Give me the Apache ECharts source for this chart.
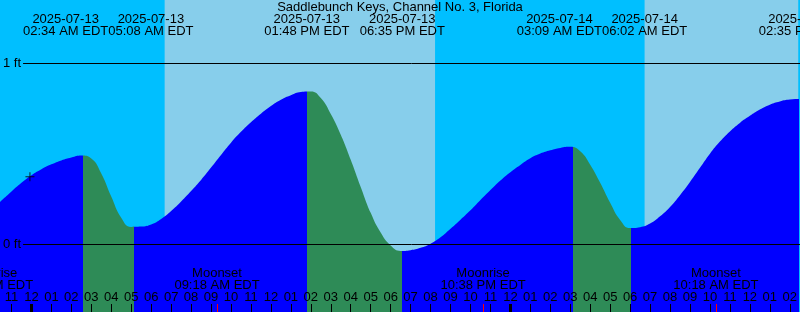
<!DOCTYPE html>
<html><head><meta charset="utf-8">
<script src="https://cdn.jsdelivr.net/npm/echarts@6/dist/echarts.min.js"></script>
<style>html,body{margin:0;padding:0;background:#00BFFF}#c{width:800px;height:312px}</style>
</head><body><div id="c"></div>
<script>
// ---- data (hours since 2025-07-13 00:00 EDT, heights in feet) ----
const titleText = 'Saddlebunch Keys, Channel No. 3, Florida';
const xMin = -1.575, xMax = 38.425;
const yMin = -0.3757, yMax = 1.3481;
const levelTicks = [0, 1];
const hourTicks = [-1,0,1,2,3,4,5,6,7,8,9,10,11,12,13,14,15,16,17,18,19,20,21,22,23,24,25,26,27,28,29,30,31,32,33,34,35,36,37,38];
const midnightTicks = [0, 24];

// tide height read every half hour, starting at tideStart
const tideStart = -2.0, tideStep = 0.5;
const tideHeights = [
  0.190, 0.240, 0.290, 0.338, 0.380, 0.413, 0.440, 0.462, 0.478, 0.489,
  0.473, 0.390, 0.262, 0.145, 0.094, 0.096, 0.108, 0.138, 0.182, 0.235,
  0.293, 0.354, 0.422, 0.492, 0.560, 0.620, 0.673, 0.720, 0.762, 0.797,
  0.822, 0.840, 0.842, 0.806, 0.718, 0.603, 0.465, 0.315, 0.172, 0.063,
  -0.008, -0.038, -0.034, -0.021, 0.002, 0.037, 0.084, 0.134, 0.186, 0.243,
  0.298, 0.351, 0.397, 0.437, 0.474, 0.500, 0.518, 0.531, 0.537, 0.512,
  0.438, 0.338, 0.228, 0.133, 0.088, 0.093, 0.113, 0.153, 0.205, 0.270,
  0.343, 0.421, 0.499, 0.566, 0.622, 0.669, 0.708, 0.743, 0.770, 0.788,
  0.798, 0.801
];

const extremeTimes = [2.567, 5.133, 13.8, 18.583, 27.15, 30.033, 38.583];
const extremeHeights = [0.490, 0.092, 0.845, -0.039, 0.538, 0.087, 0.801];
const extremeDates = ['2025-07-13','2025-07-13','2025-07-13','2025-07-13','2025-07-14','2025-07-14','2025-07-14'];
const extremeClock = ['02:34 AM EDT','05:08 AM EDT','01:48 PM EDT','06:35 PM EDT','03:09 AM EDT','06:02 AM EDT','02:35 PM EDT'];

const sunriseTimes = [6.675, 30.725];
const sunsetTimes = [20.225];

const moonTimes = [-2.05, 9.3, 22.633, 34.3];
const moonNames = ['Moonrise','Moonset','Moonrise','Moonset'];
const moonClock = ['09:57 PM EDT','09:18 AM EDT','10:38 PM EDT','10:18 AM EDT'];

const nowMark = [-0.075, 0.372];

// ---- styles ----
const FONT = 'Liberation Sans, Arial, sans-serif';
const FS = 13;
const NIGHT = '#00BFFF', DAY = '#87CEEB', RISE = '#0000FF', FALL = '#2E8B57';

const pts = tideHeights.map((h, i) => [tideStart + i * tideStep, h]);

// ---- colour pieces between extremes (rising blue / falling green) ----
const bounds = [xMin - 1].concat(extremeTimes, [xMax + 1]);
const pieces = [];
for (let i = 0; i < bounds.length - 1; i++) {
  let rising;
  if (i < extremeTimes.length) {
    // segment ending at extreme i: rising if that extreme is a high
    const prev = i > 0 ? extremeHeights[i-1] : extremeHeights[i+1];
    rising = extremeHeights[i] > prev;
  } else {
    const n = extremeTimes.length;
    rising = extremeHeights[n-1] < extremeHeights[n-2];
  }
  pieces.push({ gt: bounds[i], lte: bounds[i+1], color: rising ? RISE : FALL });
}

const dayRanges = [];
for (let i = 0; i < sunriseTimes.length; i++) {
  const s = sunriseTimes[i];
  const e = i < sunsetTimes.length ? sunsetTimes[i] : xMax + 1;
  dayRanges.push([{ xAxis: s }, { xAxis: e }]);
}

function hourLabel(v) {
  let h = ((Math.round(v) % 12) + 12) % 12;
  if (h === 0) h = 12;
  return (h < 10 ? '0' : '') + h;
}

const chart = echarts.init(document.getElementById('c'), null, { renderer: 'canvas' });
const baseX = { type: 'value', min: xMin, max: xMax, position: 'bottom', offset: 0, gridIndex: 0,
  axisLine: { show: false, onZero: false }, splitLine: { show: false }, z: 10 };

chart.setOption({
  animation: false,
  backgroundColor: NIGHT,
  grid: [
    { left: 0, right: 0, top: 0, bottom: 0 },
    { left: 22, right: 0, top: 0, bottom: 0 }
  ],
  visualMap: {
    type: 'piecewise', show: false, dimension: 0, seriesIndex: 1, pieces: pieces
  },
  xAxis: [
    Object.assign({}, baseX, {
      axisTick: { show: true, inside: true, length: 8, customValues: hourTicks, lineStyle: { color: '#000', width: 1 } },
      axisLabel: { show: true, inside: true, margin: 15, verticalAlign: 'middle', customValues: hourTicks,
        formatter: hourLabel, color: '#000', fontSize: FS, fontFamily: FONT }
    }),
    Object.assign({}, baseX, {
      axisTick: { show: true, inside: true, length: 8, customValues: midnightTicks, lineStyle: { color: '#000', width: 3 } },
      axisLabel: { show: false }
    }),
    Object.assign({}, baseX, {
      axisTick: { show: true, inside: true, length: 8, customValues: moonTimes.filter(t => t >= xMin && t <= xMax), lineStyle: { color: '#FF0000', width: 1 } },
      axisLabel: { show: false }
    }),
    { type: 'value', gridIndex: 1, min: 0, max: 1, show: false }
  ],
  yAxis: [
    { type: 'value', gridIndex: 0, min: yMin, max: yMax, show: false },
    { type: 'value', gridIndex: 1, min: yMin, max: yMax, z: 10,
      axisLine: { show: false, onZero: false }, axisTick: { show: false }, splitLine: { show: false },
      axisLabel: { show: true, customValues: levelTicks, margin: 2, formatter: v => v + ' ft',
        color: '#000', fontSize: FS, fontFamily: FONT } }
  ],
  series: [
    { type: 'line', xAxisIndex: 0, yAxisIndex: 0, data: [[xMin, yMin]], symbol: 'none', lineStyle: { width: 0 }, silent: true, z: 1,
      markArea: { silent: true, itemStyle: { color: DAY, opacity: 1 }, data: dayRanges } },
    { type: 'line', xAxisIndex: 0, yAxisIndex: 0, data: pts, symbol: 'none', showSymbol: false,
      smooth: 0.5, silent: true, lineStyle: { width: 0 }, areaStyle: { opacity: 1, origin: 'start' }, z: 2 },
    { type: 'line', xAxisIndex: 3, yAxisIndex: 1, data: [[0, yMin]], symbol: 'none', lineStyle: { width: 0 }, silent: true, z: 5,
      markLine: { silent: true, symbol: 'none', label: { show: false },
        lineStyle: { color: '#000', width: 1, type: 'solid' },
        data: levelTicks.map(v => ({ yAxis: v })) } },
    { type: 'scatter', xAxisIndex: 0, yAxisIndex: 0, data: [nowMark], silent: true, z: 6,
      symbol: 'path://M0,4H9V5H0Z M4,0H5V9H4Z', symbolSize: [9, 9], itemStyle: { color: '#000' } }
  ]
});

// ---- text labels placed through the axis scale ----
const ctx = document.createElement('canvas').getContext('2d');
ctx.font = FS + 'px ' + FONT;
const toX = t => chart.convertToPixel({ xAxisIndex: 0 }, t);

const ev = extremeTimes.map((t, i) => ({
  x: toX(t), date: extremeDates[i], clock: extremeClock[i],
  w: Math.max(ctx.measureText(extremeDates[i]).width, ctx.measureText(extremeClock[i]).width)
}));
for (let i = 0; i < ev.length - 1; i++) {
  const need = (ev[i].w + ev[i+1].w) / 2;
  const gap = ev[i+1].x - ev[i].x;
  if (gap < need) {
    const d = (need - gap) / 2;
    ev[i].x -= d; ev[i+1].x += d;
  }
}
const txt = (x, y, s) => ({ type: 'text', x: x, y: y, z: 100, silent: true,
  style: { text: s, fill: '#000', font: FS + 'px ' + FONT, textAlign: 'center', textVerticalAlign: 'middle' } });

const graphics = [txt(400, 7.5, titleText)];
ev.forEach(e => { graphics.push(txt(e.x, 19.5, e.date)); graphics.push(txt(e.x, 31.5, e.clock)); });
moonTimes.forEach((t, i) => {
  const x = toX(t);
  graphics.push(txt(x, 273.5, moonNames[i]));
  graphics.push(txt(x, 285, moonClock[i]));
});
chart.setOption({ graphic: graphics });
</script>
</body></html>
